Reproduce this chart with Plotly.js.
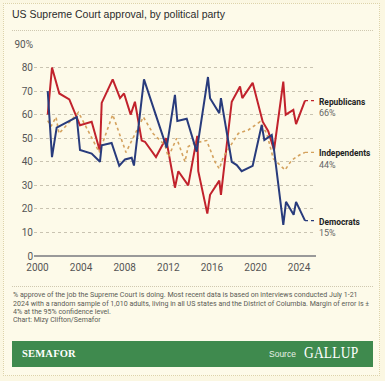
<!DOCTYPE html>
<html>
<head>
<meta charset="utf-8">
<script src="https://cdn.plot.ly/plotly-3.0.1.min.js"></script>
<style>
  html, body { margin:0; padding:0; width:385px; height:381px; background:#fbf7e2; overflow:hidden; }
  #card { position:absolute; left:3px; top:3px; width:377px; height:373px; border:1px dotted #ddd3aa; background:#fdfae9; box-sizing:border-box; }
  #chart { position:absolute; left:0; top:0; width:385px; height:381px; }
  #title { position:absolute; left:12px; top:8px; font-family:"Liberation Sans", Arial, sans-serif; font-size:10.5px; color:#2b2b2b; }
  #rule1 { position:absolute; left:12px; top:30px; width:361px; border-top:1px dotted #cfc8b0; }
  #rule2 { position:absolute; left:12px; top:286px; width:361px; border-top:1px dotted #cfc8b0; }
  #note { position:absolute; left:12.5px; top:291px; font-family:"Liberation Sans Narrow", "Roboto", sans-serif; font-size:7px; line-height:8.5px; color:#5a5a55; white-space:nowrap; transform:scaleX(1.01); transform-origin:left top; }
  #credit { position:absolute; left:12.5px; top:316px; font-family:"Liberation Sans Narrow", "Roboto", sans-serif; font-size:7px; color:#5a5a55; transform:scaleX(1.01); transform-origin:left top; }
  #banner { position:absolute; left:12px; top:341px; width:361px; height:26px; background:#3f8a4e; }
  #sem { position:absolute; left:10px; top:7px; font-family:"Liberation Serif", "DejaVu Serif", serif; font-weight:bold; font-size:10.5px; color:#fff; letter-spacing:0.2px; }
  #src { position:absolute; left:257px; top:7.5px; font-family:"Liberation Sans", sans-serif; font-size:8.5px; color:#e8f0e6; }
  #gal { position:absolute; left:292px; top:2px; font-family:"Liberation Serif", "DejaVu Serif", serif; font-size:17px; color:#fff; letter-spacing:0.3px; transform:scaleX(0.79); transform-origin:left center; }
</style>
</head>
<body>
<div id="card"></div>
<div id="chart"></div>
<div id="title">US Supreme Court approval, by political party</div>
<div id="rule1"></div>
<div id="rule2"></div>
<div id="note">% approve of the job the Supreme Court is doing. Most recent data is based on interviews conducted July 1-21<br>2024 with a random sample of 1,010 adults, living in all US states and the District of Columbia. Margin of error is ±<br>4% at the 95% confidence level.</div>
<div id="credit">Chart: Mizy Clifton/Semafor</div>
<div id="banner"><span id="sem">SEMAFOR</span><span id="src">Source</span><span id="gal">GALLUP</span></div>
<script>
// ---- data ----
const repYears = [2000.94,2001.33,2002.00,2002.92,2003.90,2004.97,2005.73,2005.89,2006.90,2007.57,2007.94,2008.55,2008.94,2009.56,2009.86,2010.87,2011.79,2012.61,2012.92,2013.83,2014.66,2014.75,2015.58,2015.83,2016.68,2016.83,2017.82,2018.58,2018.79,2019.74,2020.66,2021.17,2021.70,2022.55,2022.77,2023.47,2023.72,2024.54];
const repVals  = [60,80,69,66.5,55.5,57,44.5,65,75,67,69,60,65.5,49,48.5,42,50,29,36,30,51,36,18,26,32,26,65.5,72,67,73.5,57,53,45,74,60,62,56,66];

const demYears = [2000.94,2001.33,2001.76,2003.60,2003.90,2004.97,2005.73,2005.89,2006.80,2007.50,2008.03,2008.64,2008.85,2009.77,2011.85,2012.61,2012.83,2013.69,2014.60,2015.64,2015.83,2016.68,2016.83,2017.82,2018.28,2018.73,2019.74,2020.57,2020.81,2021.49,2021.70,2022.55,2022.80,2023.50,2023.72,2024.54];
const demVals  = [70,42,54.5,59,45,43.5,40,47,48,38.3,41,41.7,38.4,75,46,68.4,57.3,58.3,44.3,76,67,60.6,67,40,38.6,36,38.3,55.6,49.2,51.4,45,13.2,23,17.5,23,15];

const indYears = [2000.94,2001.24,2001.70,2001.97,2003.76,2005.67,2006.90,2008.12,2009.71,2010.60,2011.70,2012.00,2012.77,2013.53,2013.83,2014.45,2015.52,2016.28,2016.68,2017.05,2018.42,2019.34,2020.41,2021.03,2021.63,2022.71,2023.32,2024.08,2024.54];
const indVals  = [57.5,55,59,52,61,44,60,44,59,52,47,42,50,40,46.5,48,49,40,37,42,52,53.5,57,52,41.4,36.5,40.7,43,44];

const xTicks = [2000,2004,2008,2012,2016,2020,2024];
const yTicks = [0,10,20,30,40,50,60,70,80,90];
const yTickText = ["0","10","20","30","40","50","60","70","80","90%"];
const seriesNames = ["Republicans","Independents","Democrats"];
// ---------------

const colors = { Republicans:"#c1222c", Independents:"#d4a25e", Democrats:"#283b7c" };
const series = [
  {name:"Republicans", x:repYears, y:repVals, dash:"solid", w:2},
  {name:"Independents", x:indYears, y:indVals, dash:"dot", w:1.6},
  {name:"Democrats", x:demYears, y:demVals, dash:"solid", w:2}
];
const xEnd = 2025.55;
const traces = [];
const annotations = [];
const lblFont = "Liberation Sans Narrow, Roboto, sans-serif";
series.forEach(s => {
  traces.push({type:"scatter", mode:"lines", x:s.x, y:s.y, name:s.name,
    line:{color:colors[s.name], width:s.w, dash:s.dash}, hoverinfo:"skip"});
  const lx = s.x[s.x.length-1], ly = s.y[s.y.length-1];
  traces.push({type:"scatter", mode:"lines", x:[lx, xEnd], y:[ly, ly], showlegend:false,
    line:{color:colors[s.name], width:1.2, dash:"dot"}, hoverinfo:"skip", cliponaxis:false});
  annotations.push({xref:"paper", yref:"y", x:1, y:ly, xanchor:"left", yanchor:"middle", xshift:1, yshift:-1,
    text:"<b>"+s.name+"</b>", showarrow:false, font:{family:lblFont, size:8.4, color:"#222"}});
  annotations.push({xref:"paper", yref:"y", x:1, y:ly, xanchor:"left", yanchor:"middle", xshift:1, yshift:-12.5,
    text:Math.round(ly)+"%", showarrow:false, font:{family:lblFont, size:9, color:"#666"}});
});

const layout = {
  width:385, height:381,
  margin:{l:34, r:69, t:44, b:125.3},
  paper_bgcolor:"rgba(0,0,0,0)", plot_bgcolor:"rgba(0,0,0,0)",
  showlegend:false,
  xaxis:{range:[1999.68, xEnd], tickvals:xTicks, ticktext:xTicks.map(String), showgrid:false, zeroline:false,
    showline:false, ticks:"", ticklabelstandoff:4, tickfont:{family:lblFont, size:10, color:"#555"}},
  yaxis:{range:[0,90], tickvals:yTicks, ticktext:yTickText, showgrid:true, gridcolor:"#c9c3b1", griddash:"dot", gridwidth:1,
    zeroline:true, zerolinecolor:"#999", zerolinewidth:2, showline:false, ticks:"",
    tickfont:{family:lblFont, size:10, color:"#555"}},
  annotations:annotations
};
Plotly.newPlot("chart", traces, layout, {displayModeBar:false, staticPlot:true});
</script>
</body>
</html>
